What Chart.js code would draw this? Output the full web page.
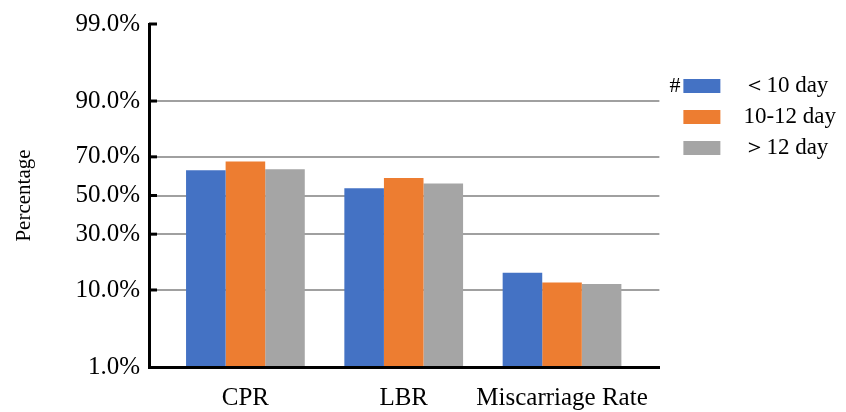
<!DOCTYPE html>
<html>
<head>
<meta charset="utf-8">
<script src="https://cdn.jsdelivr.net/npm/chart.js@4.4.1/dist/chart.umd.min.js"></script>
<style>
  html, body { margin: 0; padding: 0; background: #fff; }
  #wrap { width: 846px; height: 412px; }
</style>
</head>
<body>
<div id="wrap"><canvas id="myChart"></canvas></div>
<script>
const categories = ['CPR', 'LBR', 'Miscarriage Rate'];
const seriesNames = ['＜10 day', '10-12 day', '＞12 day'];
const under10 = [63.4, 53.9, 14.7];
const from10to12 = [67.8, 59.4, 11.9];
const over12 = [63.9, 56.5, 11.5];
const tickPercents = [1, 10, 30, 50, 70, 90, 99];
const tickLabels = ['1.0%', '10.0%', '30.0%', '50.0%', '70.0%', '90.0%', '99.0%'];
const colors = ['#4472C4', '#ED7D31', '#A5A5A5'];

// inverse normal cdf (Acklam), the y axis is a probability scale
function probit(p) {
    const a = [-39.69683028665376, 220.9460984245205, -275.9285104469687, 138.3577518672690, -30.66479806614716, 2.506628277459239];
    const b = [-54.47609879822406, 161.5858368580409, -155.6989798598866, 66.80131188771972, -13.28068155288572];
    const c = [-0.007784894002430293, -0.3223964580411365, -2.400758277161838, -2.549732539343734, 4.374664141464968, 2.938163982698783];
    const d = [0.007784695709041462, 0.3224671290700398, 2.445134137142996, 3.754408661907416];
    const plow = 0.02425;
    let q, r;
    if (p < plow) {
        q = Math.sqrt(-2 * Math.log(p));
        return (((((c[0]*q+c[1])*q+c[2])*q+c[3])*q+c[4])*q+c[5]) / ((((d[0]*q+d[1])*q+d[2])*q+d[3])*q+1);
    }
    if (p <= 1 - plow) {
        q = p - 0.5; r = q * q;
        return (((((a[0]*r+a[1])*r+a[2])*r+a[3])*r+a[4])*r+a[5])*q / (((((b[0]*r+b[1])*r+b[2])*r+b[3])*r+b[4])*r+1);
    }
    q = Math.sqrt(-2 * Math.log(1 - p));
    return -(((((c[0]*q+c[1])*q+c[2])*q+c[3])*q+c[4])*q+c[5]) / ((((d[0]*q+d[1])*q+d[2])*q+d[3])*q+1);
}

const yMin = probit(tickPercents[0] / 100);
const yMax = probit(tickPercents[tickPercents.length - 1] / 100);
const serif = '"Liberation Serif", "Times New Roman", serif';

const extras = {
    id: 'extras',
    afterDraw(chart) {
        const ctx = chart.ctx;
        const s = chart.scales.y;
        const left = chart.chartArea.left;
        ctx.save();
        ctx.strokeStyle = '#000';
        ctx.lineWidth = 3;
        s.ticks.forEach(function(t, i){
            if (i === 0) return;
            const y = s.getPixelForValue(t.value);
            ctx.beginPath();
            ctx.moveTo(left, y);
            ctx.lineTo(left + 8, y);
            ctx.stroke();
        });
        // "#" marker before the first legend entry
        const hb = chart.legend.legendHitBoxes[0];
        ctx.fillStyle = '#000';
        ctx.font = '22px ' + serif;
        ctx.textAlign = 'right';
        ctx.textBaseline = 'middle';
        ctx.fillText('#', hb.left - 3, hb.top + 12);
        ctx.restore();
    }
};

const datasets = [under10, from10to12, over12].map(function(vals, k){
    return {
        label: seriesNames[k],
        data: vals.map(function(v, i){ return {x: i, y: probit(v / 100)}; }),
        backgroundColor: colors[k],
        base: yMin,
        categoryPercentage: 0.75,
        barPercentage: 1
    };
});

let ctx = document.getElementById('myChart');
let myChart = new Chart(ctx, {
    type: 'bar',
    data: { datasets: datasets },
    plugins: [extras],
    options: {
        responsive: true,
        maintainAspectRatio: false,
        animation: false,
        layout: { padding: { top: 24, right: 0, bottom: -18, left: 0 } },
        plugins: {
            tooltip: { enabled: false },
            legend: {
                position: 'right',
                align: 'start',
                maxWidth: 220,
                title: { display: true, text: '', font: { size: 12 }, padding: { top: 28, bottom: 0 } },
                labels: {
                    boxWidth: 37,
                    boxHeight: 14,
                    padding: 8,
                    color: '#000',
                    font: { family: serif, size: 23 },
                    generateLabels: function(chart){
                        return Chart.defaults.plugins.legend.labels.generateLabels(chart).map(function(l){
                            l.text = '  ' + l.text;
                            return l;
                        });
                    }
                }
            }
        },
        scales: {
            x: {
                type: 'linear',
                offset: false,
                min: -0.609,
                max: 2.615,
                grid: { drawOnChartArea: false, drawTicks: false },
                border: { display: true, color: '#000', width: 3 },
                afterBuildTicks: function(s){
                    s.ticks = categories.map(function(c, i){ return {value: i}; });
                },
                ticks: {
                    color: '#000',
                    padding: 19,
                    maxRotation: 0,
                    autoSkip: false,
                    font: { family: serif, size: 25, lineHeight: 1 },
                    callback: function(v, i){ return categories[i]; }
                }
            },
            y: {
                min: yMin,
                max: yMax,
                grid: {
                    drawTicks: false,
                    lineWidth: 2,
                    color: function(c){
                        return (c.index === 0 || c.index === tickPercents.length - 1) ? 'rgba(0,0,0,0)' : '#a0a0a0';
                    }
                },
                border: { display: true, color: '#000', width: 3 },
                afterBuildTicks: function(s){
                    s.ticks = tickPercents.map(function(p){ return {value: probit(p / 100)}; });
                },
                afterFit: function(s){ s.width = 149; },
                ticks: {
                    color: '#000',
                    padding: 9,
                    font: { family: serif, size: 25 },
                    callback: function(v, i){ return tickLabels[i]; }
                },
                title: {
                    display: true,
                    text: 'Percentage',
                    color: '#000',
                    font: { family: serif, size: 21 },
                    padding: { top: 12, bottom: 20 }
                }
            },
            yR: {
                position: 'right',
                display: true,
                grid: { display: false, drawTicks: false },
                border: { display: false },
                ticks: { display: false },
                afterFit: function(s){ s.width = 16; }
            }
        }
    }
});
</script>
</body>
</html>
